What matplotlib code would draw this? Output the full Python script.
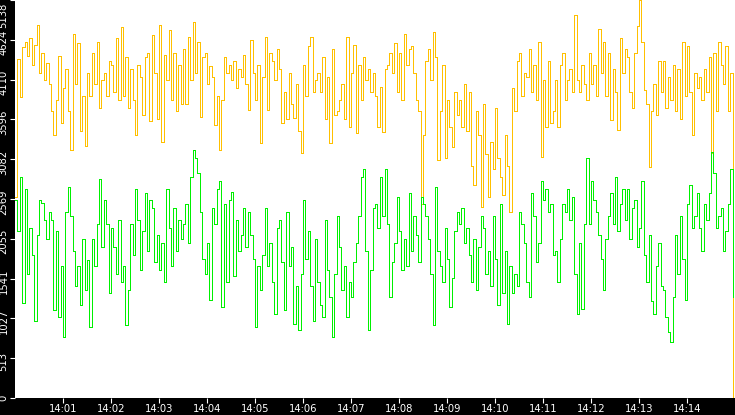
import matplotlib
matplotlib.use('Agg')
import matplotlib.pyplot as plt
import matplotlib.transforms as mtrans
import pandas as pd

# sampled every 3 s from 14:00:00
yellow = [
    2600, 4370, 3880, 4530, 4600, 4420, 4650, 4300, 4560, 4820, 4200, 4450, 4100, 4330, 4050,
    3700, 3400, 3850, 4420, 3550, 4000, 4250, 3700, 3200, 4700, 4050, 4580, 3450, 3900, 3250,
    4200, 3900, 4450, 4050, 4600, 3750, 4100, 4200, 3900, 4350, 4300, 3950, 4650, 3850, 4790,
    3900, 4400, 3750, 4250, 3850, 3400, 4300, 4150, 3650, 4400, 4450, 3570, 4680, 4200, 3600,
    4820, 3300, 4430, 4100, 4750, 3850, 4450, 3700, 4300, 3800, 4500, 3800, 4660, 4100, 4850,
    4200, 4600, 3630, 4400, 4450, 4050, 4280, 4150, 3530, 3900, 3200, 3850, 4400, 4200, 4300,
    4100, 4350, 4000, 4250, 4150, 4430, 4050, 3720, 4620, 4200, 3850, 4300, 3290, 4150, 4665,
    3720, 4450, 4350, 4100, 4500, 4250, 3550, 3950, 3600, 4200, 3800, 3620, 4050, 3450, 3160,
    4300, 3900, 4550, 4665, 3950, 4100, 4200, 3950, 4400, 3600, 4150, 3290, 4500, 3650, 3700,
    3850, 4050, 3600, 4665, 3500, 4200, 4560, 3420, 4300, 3850, 4400, 4100, 4250, 3950, 4200,
    3900, 3500, 4020, 3430, 4250, 4300, 4450, 4200, 4580, 3950, 4450, 3850, 4700, 4300, 4500,
    4550, 4200, 3850, 3700, 2510, 3400, 4350, 4500, 4100, 4730, 4400, 3070, 3700, 4300, 3100,
    3850, 3500, 3240, 3950, 3650, 3850, 3500, 4050, 3450, 3950, 3000, 2750, 3700, 3400, 2470,
    3800, 3150, 2600, 3300, 2950, 3750, 3100, 2850, 2620, 3400, 3000, 2406, 4000, 3700, 4350,
    4450, 3900, 4200, 4150, 4500, 3950, 4300, 3850, 4600, 3116, 4100, 3500, 4350, 3550, 3700,
    4100, 3500, 4300, 4450, 3850, 4100, 4250, 3950, 4950, 4100, 3950, 4300, 4050, 3850, 4450,
    4050, 4300, 3900, 4770, 4200, 4600, 3900, 4450, 3590, 4250, 3950, 3460, 4650, 4200, 4500,
    4400, 3950, 3750, 4450, 4800, 5138, 4600, 3980, 3800, 2986, 3700, 4050, 3650, 4350, 3950,
    4350, 3750, 4150, 3850, 4300, 3700, 4250, 3600, 4600, 3900, 4550, 3950, 3400, 4200, 4000,
    4150, 3850, 4250, 3950, 4400, 3160, 4450, 3700, 4600, 4300, 4050, 4550, 3700, 4200, 0,
]
green = [
    2556, 2150, 2857, 1222, 2700, 1600, 2200, 1850, 1000, 2100, 2550, 2520, 2300, 2050, 2400,
    2300, 1130, 2150, 1050, 1700, 792, 2400, 2730, 2350, 1900, 1450, 1700, 1200, 2050, 1400,
    1780, 920, 2050, 1700, 2250, 2830, 1950, 2560, 2250, 1350, 2200, 1950, 1600, 2300, 1500,
    1700, 940, 1400, 2250, 1850, 2700, 2300, 1650, 2150, 2650, 1900, 2550, 2450, 1750, 2100,
    1650, 2000, 1500, 2700, 2200, 1700, 2450, 1900, 2300, 2050, 2250, 2500, 2000, 2850, 3200,
    3100, 2900, 2400, 1800, 1600, 2000, 1265, 2450, 2250, 2700, 2800, 1180, 2500, 1500, 2550,
    2660, 1570, 2300, 1900, 2100, 2450, 1950, 2400, 2100, 1800, 920, 1700, 1400, 1850, 2450,
    1700, 2000, 1500, 1090, 2200, 2300, 1750, 1140, 2400, 1700, 1950, 960, 1450, 880, 1600,
    2550, 1800, 2150, 1450, 1000, 2050, 1500, 1200, 1050, 2300, 1650, 1300, 790, 1600, 2350,
    1950, 1400, 1700, 1050, 1500, 1300, 1750, 2000, 2350, 2850, 2950, 1900, 880, 1650, 2450,
    2500, 2200, 2850, 2350, 2950, 2250, 1300, 1750, 2000, 2600, 2150, 1650, 2050, 1700, 2650,
    1900, 2350, 2100, 1750, 2600, 2500, 2350, 2050, 1600, 943, 2730, 1900, 1700, 1500, 2200,
    1800, 1180, 1550, 2150, 2400, 2250, 2450, 2000, 2200, 1850, 1500, 2050, 1400, 1950, 2350,
    2200, 1600, 1900, 1450, 2350, 1800, 1200, 2500, 1350, 1900, 950, 1700, 1350, 1600, 1450,
    2400, 2250, 2000, 1500, 1300, 2650, 2350, 1750, 2000, 2800, 2550, 2700, 2400, 2500, 1850,
    1900, 1500, 2050, 2500, 2400, 2700, 2300, 2600, 1600, 1090, 2000, 1150, 2250, 3100, 2250,
    2800, 2550, 2400, 2100, 1800, 1400, 2050, 2350, 2650, 2250, 2850, 2150, 2500, 2700, 2300,
    2700, 2050, 2450, 2550, 1950, 2200, 2800, 1850, 1500, 2100, 1250, 1090, 1700, 2000, 1450,
    1400, 1050, 850, 720, 1300, 2100, 1600, 2350, 1800, 1270, 2500, 2750, 2200, 2350, 2650,
    2200, 1900, 2500, 2300, 2650, 3180, 2900, 2200, 2350, 2450, 1900, 2150, 2500, 2950, 1300,
]
y_ticks = [0, 513.8, 1027.6, 1541.4, 2055.2, 2569, 3082.8, 3596.6, 4110.4, 4624.2, 5138]
y_labels = ['0', '513', '1027', '1541', '2055', '2569', '3082', '3596', '4110', '4624', '5138']
x_labels = ['14:01', '14:02', '14:03', '14:04', '14:05', '14:06', '14:07',
            '14:08', '14:09', '14:10', '14:11', '14:12', '14:13', '14:14']

times = pd.date_range('2024-01-01 14:00:00', periods=len(yellow), freq='3s')
x_ticks = pd.to_datetime(['2024-01-01 ' + t for t in x_labels])

fig = plt.figure(figsize=(7.35, 4.15), dpi=100, facecolor='black')
ax = fig.add_axes([15/735, 17/415, 720/735, 398/415])
ax.set_facecolor('white')

ax.plot(times, yellow, drawstyle='steps-post', color='#ffc000', lw=0.6, antialiased=False)
ax.plot(times, green, drawstyle='steps-post', color='#00f000', lw=0.6, antialiased=False)

ax.set_xlim(pd.Timestamp('2024-01-01 14:00:00'), pd.Timestamp('2024-01-01 14:15:00'))
ax.set_ylim(0, 5138)
for s in ax.spines.values():
    s.set_visible(False)

ax.set_xticks(x_ticks)
ax.set_xticklabels(x_labels)
ax.set_yticks(y_ticks)
ax.set_yticklabels(y_labels, rotation=90, va='center')
ax.tick_params(colors='white', length=3.6, width=0.8, pad=1, labelsize=7.2, direction='out')

shift = mtrans.ScaledTranslation(0, -3/100, fig.dpi_scale_trans)
for lab in ax.get_yticklabels():
    lab.set_transform(lab.get_transform() + shift)
ax.get_yticklabels()[-1].set_va('top')
ax.get_yticklabels()[0].set_transform(ax.get_yticklabels()[0].get_transform()
                                      + mtrans.ScaledTranslation(0, 3/100, fig.dpi_scale_trans))

fig.savefig('out.png', dpi=100, facecolor='black')
